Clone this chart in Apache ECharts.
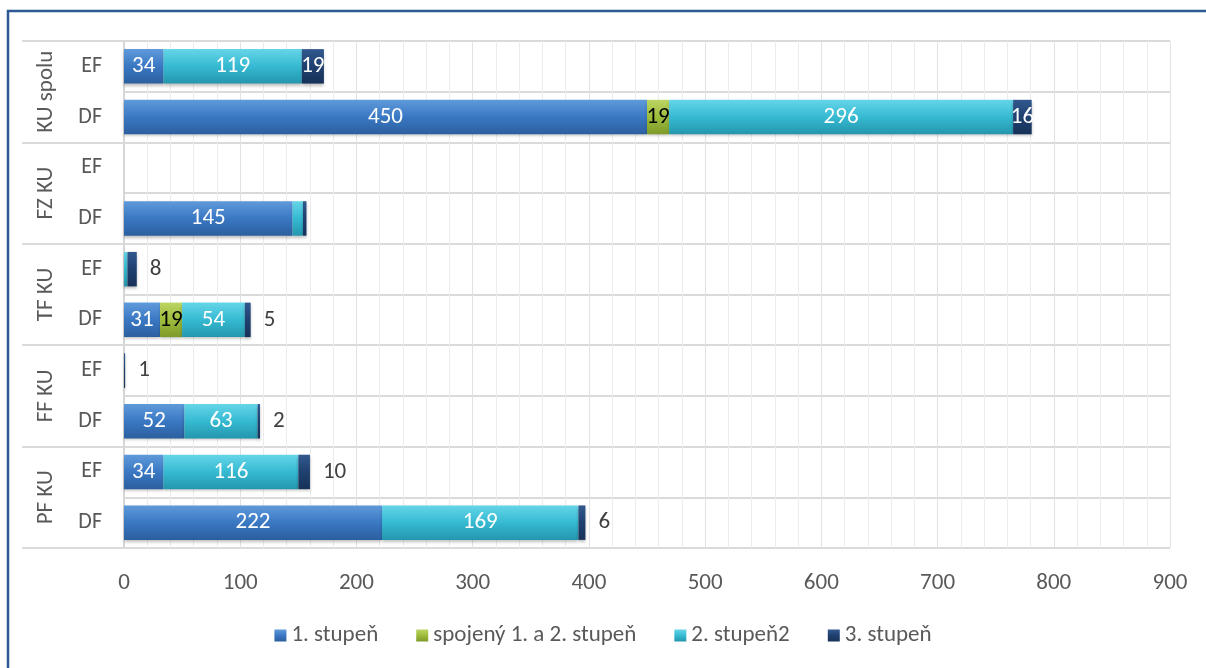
<!DOCTYPE html>
<html>
<head>
<meta charset="utf-8">
<script src="https://cdn.jsdelivr.net/npm/echarts@6/dist/echarts.min.js"></script>
<style>
  html, body { margin: 0; padding: 0; background: #fff; }
  #chart { width: 1206px; height: 668px; }
</style>
</head>
<body>
<div id="chart"></div>
<script>
// skupiny a riadky (zdola nahor)
const groups = ['PF KU', 'FF KU', 'TF KU', 'FZ KU', 'KU spolu'];
const rowLabels = ['DF', 'EF'];
const categories = groups.flatMap(g => rowLabels.map(r => g + '|' + r));

const seriesNames = ['1. stupeň', 'spojený 1. a 2. stupeň', '2. stupeň2', '3. stupeň'];
const stupen1 = [222, 34, 52, 0, 31, 0, 145, 0, 450, 34];
const spojeny = [0, 0, 0, 0, 19, 0, 0, 0, 19, 0];
const stupen2 = [169, 116, 63, 0, 54, 3, 9, 0, 296, 119];
const stupen3 = [6, 10, 2, 1, 5, 8, 3, 0, 16, 19];

const xTicks = [0, 900, 100];

const FONT = 'Carlito, Calibri, Lato, "Liberation Sans", sans-serif';
const grad = (a, b, c) => new echarts.graphic.LinearGradient(0, 0, 0, 1, [
    { offset: 0, color: a }, { offset: 0.5, color: b }, { offset: 1, color: c }
]);
const fills = [
    grad('#5f9ada', '#3a78c3', '#2b5f9f'),
    grad('#bcd563', '#9dbd3c', '#7e9a2a'),
    grad('#66d5e8', '#35bad2', '#2496ad'),
    grad('#31598f', '#1f406f', '#173259')
];

const chart = echarts.init(document.getElementById('chart'));

// popisky: nulové a veľmi malé hodnoty sa nezobrazujú
function labelFor(si, i, v) {
    if (!v) return { show: false };
    if (si === 3) {
        if (categories[i] === 'FZ KU|DF') return { show: false };
        if (categories[i].startsWith('KU spolu')) return { show: true, position: 'inside' };
        return { show: true, position: 'right', distance: 13, color: '#404040' };
    }
    if (v < 10) return { show: false };
    return { show: true, position: 'inside', color: si === 1 ? '#000' : '#fff' };
}

const allValues = [stupen1, spojeny, stupen2, stupen3];

const option = {
    animation: false,
    textStyle: { fontFamily: FONT },
    graphic: [{
        type: 'rect',
        shape: { x: 8, y: 11, width: 1400, height: 800 },
        style: { fill: 'none', stroke: '#2d5a94', lineWidth: 2.5 },
        silent: true
    }],
    grid: { left: 124, right: 36, top: 41, bottom: 120 },
    legend: {
        bottom: 16,
        left: 'center',
        icon: 'rect',
        itemWidth: 12,
        itemHeight: 12,
        itemGap: 38,
        textStyle: { color: '#595959', fontSize: 23, fontFamily: FONT },
        data: seriesNames
    },
    xAxis: {
        type: 'value',
        min: xTicks[0],
        max: xTicks[1],
        interval: xTicks[2],
        axisLine: { show: false },
        axisTick: { show: false },
        axisLabel: { color: '#595959', fontSize: 23, margin: 24 },
        splitLine: { lineStyle: { color: '#e2e2e2' } },
        minorTick: { show: false, splitNumber: 5 },
        minorSplitLine: { show: true, lineStyle: { color: '#ececec' } }
    },
    yAxis: [{
        type: 'category',
        data: categories,
        axisLine: { show: true, lineStyle: { color: '#d6d6d6', width: 2 } },
        axisTick: { show: false },
        axisLabel: {
            interval: 0,
            color: '#595959', fontSize: 22, margin: 22,
            formatter: v => v.split('|')[1]
        },
        splitLine: { show: true, interval: 0, lineStyle: { color: '#dadada', width: 2 } }
    }, {
        type: 'category',
        data: groups,
        position: 'left',
        axisLine: { show: false },
        axisTick: { show: true, interval: 0, length: 102, lineStyle: { color: '#dadada', width: 2 } },
        axisLabel: { interval: 0, color: '#595959', fontSize: 23, rotate: 90, margin: 66 },
        splitLine: { show: false }
    }],
    series: seriesNames.map((name, si) => ({
        name: name,
        type: 'bar',
        stack: 'total',
        yAxisIndex: 0,
        barCategoryGap: '32%',
        itemStyle: {
            color: fills[si],
            shadowColor: 'rgba(0,0,0,0.25)',
            shadowBlur: 3,
            shadowOffsetY: 2
        },
        label: { fontSize: 23, color: '#fff', fontFamily: FONT },
        data: allValues[si].map((v, i) => ({ value: v, label: labelFor(si, i, v) }))
    }))
};

chart.setOption(option);
</script>
</body>
</html>
